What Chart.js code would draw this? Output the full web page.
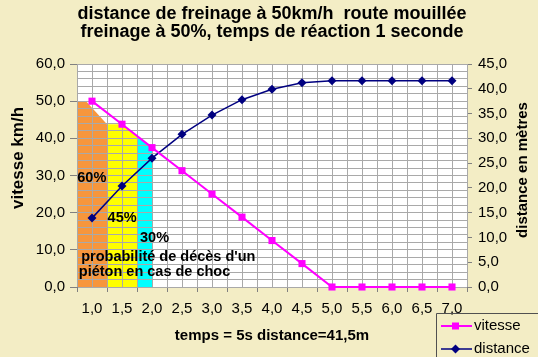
<!DOCTYPE html>
<html><head><meta charset="utf-8">
<script src="https://cdn.jsdelivr.net/npm/chart.js@4/dist/chart.umd.min.js"></script>
<style>
html,body{margin:0;padding:0;background:#f3edc5;}
canvas{display:block;}
</style>
</head><body>
<canvas id="c" width="538" height="357"></canvas>
<script>
// ---- data ----
const temps = [1.0, 1.5, 2.0, 2.5, 3.0, 3.5, 4.0, 4.5, 5.0, 5.5, 6.0, 6.5, 7.0];
const vitesse = [50.0, 43.8, 37.5, 31.3, 25.0, 18.8, 12.5, 6.3, 0.0, 0.0, 0.0, 0.0, 0.0];
const distance = [13.9, 20.4, 26.0, 30.8, 34.7, 37.8, 39.9, 41.2, 41.6, 41.6, 41.6, 41.6, 41.6];
// coloured probability zones (x in seconds, y in km/h)
const zone60 = [[0.75, 50.0], [0.9, 50.0], [1.25, 43.8]];
const zone45 = [[1.25, 43.8], [1.5, 43.8], [1.75, 40.4]];
const zone30 = [[1.75, 40.4], [2.0, 37.5]];
const titleLines = ['distance de freinage à 50km/h  route mouillée', 'freinage à 50%, temps de réaction 1 seconde'];
const xTitle = 'temps = 5s distance=41,5m';
const yLeftTitle = 'vitesse km/h';
const yRightTitle = 'distance en mètres';
const seriesNames = ['vitesse', 'distance'];
const noteTexts = ['60%', '45%', '30%', "probabilité de décès d'un", 'piéton en cas de choc'];

// ---- presentation ----
const FONT = "'Liberation Sans', Arial, sans-serif";
const notePlacement = [[0.755, 29.2], [1.26, 18.6], [1.8, 13.2], [0.82, 8.1], [0.78, 4.1]];
const C_V = '#ff00ff', C_D = '#000080';
const GRID = '#a9a9a9', AXIS = '#808080';

const fmt = v => v.toFixed(1).replace('.', ',');
const isMult = (v, s) => Math.abs(v / s - Math.round(v / s)) < 1e-6;
const pts = arr => arr.map(p => ({x: p[0], y: p[1]}));

const zoneDs = (arr, color) => ({
  data: pts(arr), yAxisID: 'y', fill: 'origin', backgroundColor: color,
  borderColor: 'rgba(0,0,0,0)', borderWidth: 1, pointRadius: 0, tension: 0, isZone: true
});

const bgPlugin = {
  id: 'bg',
  beforeDraw(chart) {
    const {ctx, chartArea: a} = chart;
    ctx.save();
    ctx.fillStyle = '#f3edc5';
    ctx.fillRect(0, 0, chart.width, chart.height);
    ctx.fillStyle = '#ffffff';
    ctx.fillRect(a.left, a.top, a.right - a.left, a.bottom - a.top);
    ctx.restore();
  }
};

const gridOver = {
  id: 'gridOver',
  afterDatasetDraw(chart, args) {
    const ds = chart.data.datasets[args.index];
    if (ds.isZone) {
      chart.scales.x.drawGrid(chart.chartArea);
      chart.scales.y.drawGrid(chart.chartArea);
    }
  }
};

const notesPlugin = {
  id: 'notes',
  afterDatasetsDraw(chart) {
    const {ctx, scales: {x, y}} = chart;
    ctx.save();
    ctx.font = 'bold 14.5px ' + FONT;
    ctx.fillStyle = '#000';
    ctx.textAlign = 'left';
    ctx.textBaseline = 'middle';
    noteTexts.forEach((t, i) => {
      ctx.fillText(t, x.getPixelForValue(notePlacement[i][0]), y.getPixelForValue(notePlacement[i][1]));
    });
    ctx.restore();
  }
};

const extras = {
  id: 'extras',
  afterDraw(chart) {
    const {ctx} = chart;
    // axis titles, both reading bottom to top
    [[yLeftTitle, 18.5, 158, 17], [yRightTitle, 523, 170, 15]].forEach(([t, cx, cy, size]) => {
      ctx.save();
      ctx.translate(cx, cy);
      ctx.rotate(-Math.PI / 2);
      ctx.font = 'bold ' + size + 'px ' + FONT;
      ctx.fillStyle = '#000';
      ctx.textAlign = 'center';
      ctx.textBaseline = 'middle';
      ctx.fillText(t, 0, 0);
      ctx.restore();
    });

    // legend
    ctx.save();
    ctx.strokeStyle = '#505050';
    ctx.lineWidth = 1;
    ctx.beginPath();
    ctx.moveTo(436.5, 357); ctx.lineTo(436.5, 313.5); ctx.lineTo(538, 313.5);
    ctx.stroke();
    const items = [
      {name: seriesNames[0], color: C_V, y: 326, lw: 2, shape: 'rect'},
      {name: seriesNames[1], color: C_D, y: 349, lw: 1.5, shape: 'diamond'}
    ];
    items.forEach(it => {
      ctx.strokeStyle = it.color; ctx.lineWidth = it.lw;
      ctx.beginPath(); ctx.moveTo(441, it.y); ctx.lineTo(472, it.y); ctx.stroke();
      ctx.fillStyle = it.color;
      if (it.shape === 'rect') {
        ctx.fillRect(452, it.y - 3.5, 7, 7);
      } else {
        ctx.beginPath();
        ctx.moveTo(455.5, it.y - 4.5); ctx.lineTo(460, it.y); ctx.lineTo(455.5, it.y + 4.5); ctx.lineTo(451, it.y);
        ctx.closePath(); ctx.fill();
      }
      ctx.fillStyle = '#000';
      ctx.font = '15px ' + FONT;
      ctx.textAlign = 'left';
      ctx.textBaseline = 'middle';
      ctx.fillText(it.name, 474, it.y);
    });
    ctx.restore();
  }
};

new Chart(document.getElementById('c'), {
  type: 'line',
  data: {
    datasets: [
      {label: seriesNames[0], data: temps.map((t, i) => ({x: t, y: vitesse[i]})), yAxisID: 'y',
       borderColor: C_V, backgroundColor: C_V, borderWidth: 2, pointStyle: 'rect', pointRadius: 5,
       pointBorderWidth: 0, pointBackgroundColor: C_V, tension: 0, clip: false},
      {label: seriesNames[1], data: temps.map((t, i) => ({x: t, y: distance[i]})), yAxisID: 'y2',
       borderColor: C_D, backgroundColor: C_D, borderWidth: 1.5, pointStyle: 'rectRot', pointRadius: 4.5,
       pointBorderWidth: 0, pointBackgroundColor: C_D, tension: 0, clip: false},
      zoneDs(zone60, '#f7963c'),
      zoneDs(zone45, '#ffff00'),
      zoneDs(zone30, '#00ffff')
    ]
  },
  options: {
    responsive: false,
    animation: false,
    layout: {padding: 0},
    plugins: {
      legend: {display: false},
      tooltip: {enabled: false},
      title: {
        display: true, text: titleLines, fullSize: false, color: '#000',
        font: {family: FONT, size: 18, weight: 'bold', lineHeight: 1},
        padding: {top: 5, bottom: 23}
      }
    },
    scales: {
      x: {
        type: 'linear', min: 0.75, max: 7.25,
        ticks: {stepSize: 0.25, autoSkip: false, maxRotation: 0, minRotation: 0, color: '#000',
          font: {family: FONT, size: 15}, padding: 8,
          callback: v => (isMult(v, 0.5) && v >= 1 && v <= 7) ? fmt(v) : ''},
        grid: {color: GRID, lineWidth: 1, tickLength: 5,
          tickColor: c => (c.tick && isMult(c.tick.value - 0.75, 0.5)) ? AXIS : 'rgba(0,0,0,0)'},
        border: {color: AXIS},
        title: {display: true, text: xTitle, color: '#000',
          font: {family: FONT, size: 15, weight: 'bold', lineHeight: 1.2}, padding: {top: 0, bottom: 12}},
        afterFit: s => { s.height = 70; }
      },
      y: {
        position: 'left', min: 0, max: 60,
        ticks: {stepSize: 2, autoSkip: false, color: '#000', font: {family: FONT, size: 15}, padding: 5,
          callback: v => isMult(v, 10) ? fmt(v) : ''},
        grid: {color: GRID, lineWidth: 1, tickLength: 7,
          tickColor: c => (c.tick && isMult(c.tick.value, 10)) ? AXIS : 'rgba(0,0,0,0)'},
        border: {color: AXIS},
        title: {display: false},
        afterFit: s => { s.width = 77; }
      },
      y2: {
        position: 'right', min: 0, max: 45,
        ticks: {stepSize: 5, autoSkip: false, color: '#000', font: {family: FONT, size: 15}, padding: 6,
          callback: v => fmt(v)},
        grid: {drawOnChartArea: false, color: AXIS, tickLength: 5},
        border: {color: AXIS},
        afterFit: s => { s.width = 71; }
      }
    }
  },
  plugins: [bgPlugin, gridOver, notesPlugin, extras]
});
</script>
</body></html>
